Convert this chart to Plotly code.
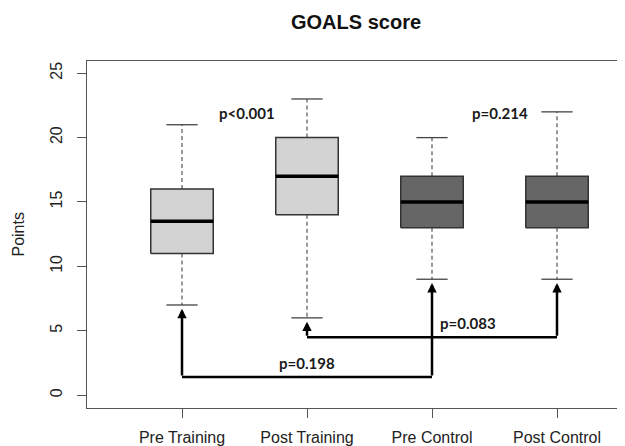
import plotly.graph_objects as go

# ---- data ----
categories = ["Pre Training", "Post Training", "Pre Control", "Post Control"]
lower_whisker = [7, 6, 9, 9]
q1 = [11, 14, 13, 13]
median = [13.5, 17, 15, 15]
q3 = [16, 20, 17, 17]
upper_whisker = [21, 23, 20, 22]
box_colors = ["#d3d3d3", "#d3d3d3", "#666666", "#666666"]

# top p-value labels
top_labels = ["p<0.001", "p=0.214"]
top_label_x = [1.52, 3.54]
top_label_y = [21.9, 21.9]

# bracket comparisons (group index from/to, bracket level, label)
bracket_from = [1, 2]
bracket_to = [3, 4]
bracket_level = [1.4, 4.5]
bracket_labels = ["p=0.198", "p=0.083"]
bracket_label_x = [2.0, 3.29]
bracket_label_y = [2.5, 5.6]

y_ticks = [0, 5, 10, 15, 20, 25]

# ---- style ----
BOX_W = 0.5
CAP_W = 0.25
AX_FONT = "Liberation Sans, Arial, sans-serif"
P_FONT = "Lato, Calibri, sans-serif"

fig = go.Figure()
xs = list(range(1, len(categories) + 1))

for i, x in enumerate(xs):
    # whiskers (dashed)
    fig.add_trace(go.Scatter(
        x=[x, x, None, x, x],
        y=[q3[i], upper_whisker[i], None, q1[i], lower_whisker[i]],
        mode="lines", line=dict(color="#555555", width=1.2, dash="4px,3px"),
        hoverinfo="skip", showlegend=False))
    # caps
    fig.add_trace(go.Scatter(
        x=[x - CAP_W / 2, x + CAP_W / 2, None, x - CAP_W / 2, x + CAP_W / 2],
        y=[upper_whisker[i], upper_whisker[i], None, lower_whisker[i], lower_whisker[i]],
        mode="lines", line=dict(color="#444444", width=1.3),
        hoverinfo="skip", showlegend=False))
    # box
    fig.add_trace(go.Scatter(
        x=[x - BOX_W / 2, x + BOX_W / 2, x + BOX_W / 2, x - BOX_W / 2, x - BOX_W / 2],
        y=[q1[i], q1[i], q3[i], q3[i], q1[i]],
        mode="lines", fill="toself", fillcolor=box_colors[i],
        line=dict(color="#333333", width=1.5),
        hoverinfo="skip", showlegend=False))
    # median
    fig.add_trace(go.Scatter(
        x=[x - BOX_W / 2, x + BOX_W / 2], y=[median[i], median[i]],
        mode="lines", line=dict(color="#000000", width=3.5),
        hoverinfo="skip", showlegend=False))

# brackets: horizontal parts as lines, vertical parts as arrows
for k in range(len(bracket_from)):
    a, b = bracket_from[k], bracket_to[k]
    lv = bracket_level[k]
    fig.add_trace(go.Scatter(
        x=[a, b], y=[lv, lv], mode="lines",
        line=dict(color="#000000", width=2.5),
        hoverinfo="skip", showlegend=False))
    for g in (a, b):
        fig.add_annotation(
            x=g, y=lower_whisker[g - 1] - 0.3, ax=g, ay=lv,
            xref="x", yref="y", axref="x", ayref="y",
            text="", showarrow=True, arrowhead=2, arrowsize=0.75,
            arrowwidth=2.5, arrowcolor="#000000")
    fig.add_annotation(
        x=bracket_label_x[k], y=bracket_label_y[k], xref="x", yref="y",
        text="<b>" + bracket_labels[k] + "</b>", showarrow=False,
        font=dict(family=P_FONT, size=15, color="#1a1a1a"))

for k in range(len(top_labels)):
    fig.add_annotation(
        x=top_label_x[k], y=top_label_y[k], xref="x", yref="y",
        text="<b>" + top_labels[k] + "</b>", showarrow=False,
        font=dict(family=P_FONT, size=15, color="#1a1a1a"))

# titles as paper annotations (plot area height 347 px, width 538 px)
fig.add_annotation(
    x=0.5, y=(347 + 39) / 347, xref="paper", yref="paper",
    text="<b>GOALS score</b>", showarrow=False, xanchor="center", yanchor="middle",
    font=dict(family=AX_FONT, size=20, color="#111111"))
fig.add_annotation(
    x=-69 / 538, y=0.5, xref="paper", yref="paper",
    text="Points", textangle=-90, showarrow=False, xanchor="center", yanchor="middle",
    font=dict(family=AX_FONT, size=16, color="#222222"))

# the page body adds an 8 px offset, so margins are reduced accordingly
fig.update_layout(
    width=625, height=446,
    margin=dict(l=79, r=8, t=53, b=46, autoexpand=False),
    paper_bgcolor="white", plot_bgcolor="white",
    font=dict(family=AX_FONT, color="#222222"),
)
fig.update_xaxes(
    range=[0.24, 4.544], tickvals=xs, ticktext=categories, automargin=False,
    showgrid=False, zeroline=False, showline=True, linecolor="#555555", linewidth=1.3,
    mirror=True, ticks="outside", ticklen=9, tickcolor="#555555", tickwidth=1.2,
    ticklabelstandoff=6,
    tickfont=dict(family=AX_FONT, size=16, color="#222222"))
fig.update_yaxes(
    range=[-1.0, 25.95], tickvals=y_ticks, ticktext=[str(v) for v in y_ticks],
    automargin=False,
    showgrid=False, zeroline=False, showline=True, linecolor="#555555", linewidth=1.3,
    ticks="outside", ticklen=9, tickcolor="#555555", tickwidth=1.2, tickangle=-90,
    ticklabelstandoff=8,
    tickfont=dict(family=AX_FONT, size=16, color="#222222"))

fig.write_html("out.html")
